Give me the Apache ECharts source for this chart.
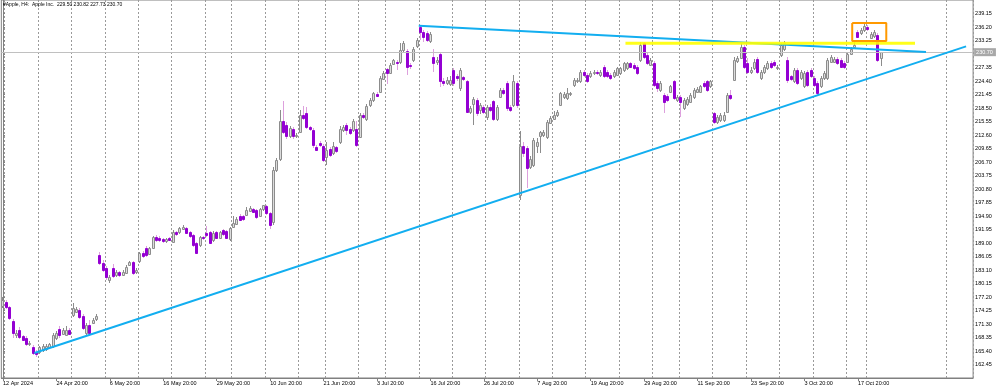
<!DOCTYPE html>
<html><head><meta charset="utf-8">
<script src="https://cdn.jsdelivr.net/npm/echarts@6/dist/echarts.min.js"></script>
<style>html,body{margin:0;padding:0;background:#fff}#c{width:1000px;height:388px}</style>
</head><body><div id="c"></div>
<script>
// [open, close, low, high] per H4 bar
const aprBars = [
[175.3,176.6,174.9,177.2],[176.2,175.0,174.6,176.6],[175.0,172.6,172.2,175.3],[172.0,169.3,168.2,172.5],
[168.8,169.4,168.2,170.0],[170.0,168.5,168.0,170.6],[168.6,167.9,167.6,168.9],[168.2,167.0,166.5,168.6],
[166.9,167.1,166.5,167.5],[166.3,165.0,164.6,166.8],[165.2,164.7,164.1,165.6],[165.2,166.2,164.8,166.6],
[165.6,166.6,165.2,167.0],[165.9,166.5,165.5,167.0],[166.2,166.9,165.9,167.2],[166.4,168.9,166.1,169.3],
[168.2,169.3,167.8,169.8],[170.3,168.9,168.3,170.9],[169.2,170.0,168.9,170.4],[169.0,170.0,168.6,170.8],
[170.0,169.2,168.8,170.4],[173.3,174.8,172.9,175.9],[174.0,174.5,173.6,175.0],[174.4,172.8,172.4,174.9],
[173.0,170.4,170.0,173.4]
];
const mayBars = [
[169.3,171.0,168.8,171.5],[171.1,169.3,168.9,172.2],[171.6,172.2,171.2,172.7],[172.3,173.1,171.9,173.5],
[186.3,184.6,184.2,187.0],[184.7,183.0,182.7,185.2],[183.6,181.6,181.0,184.0],[181.0,181.6,180.3,182.0],
[183.5,181.7,181.4,184.5],[182.0,182.7,181.6,183.0],[182.6,182.0,181.5,182.9],[182.0,182.7,181.7,183.0],
[182.5,183.8,182.2,184.2],[184.3,184.9,184.0,185.1],[184.9,182.5,182.1,185.1],[182.6,183.1,182.2,183.5],
[185.0,186.8,184.7,187.1],[186.9,186.2,185.8,187.2],[187.9,186.4,186.0,188.3],[186.6,187.9,186.3,188.2],
[187.9,190.3,187.6,190.6],[190.4,189.7,189.3,190.8],[190.2,189.6,189.2,190.6],[189.9,189.5,189.1,190.2],
[189.4,189.9,189.0,190.2],[190.1,189.7,189.4,190.4],[189.2,191.4,189.0,191.9],[191.4,190.9,190.6,191.7],
[191.3,192.2,190.9,192.6],[192.1,192.5,191.8,192.9],[192.2,191.2,190.9,192.5],[191.3,190.5,190.2,191.6],
[190.7,188.5,188.1,191.0],[189.0,186.8,186.5,189.3],[188.5,190.3,188.2,190.6],[190.3,190.0,189.7,190.6],
[191.2,190.7,190.4,192.8],[191.3,189.1,188.8,191.6],[189.6,191.2,189.3,191.6],[191.3,190.2,189.9,191.6],
[190.0,191.3,189.8,191.6],[191.8,190.9,190.6,192.1],[191.6,190.1,189.8,191.9],[189.8,192.3,189.5,192.6]
];
const junBars = [
[192.6,193.4,192.3,194.8],[193.1,194.3,192.9,194.6],[194.9,194.0,193.7,195.3],[194.8,194.2,193.9,195.1],
[195.1,196.3,194.9,196.9],[196.0,196.6,195.7,197.0],[196.4,195.8,195.5,196.7],[196.2,194.6,194.2,196.5],
[194.9,196.4,194.6,196.7],[196.4,197.2,196.1,197.4],[197.1,195.6,195.2,197.3],[195.5,193.0,192.1,195.8],
[193.5,205.0,193.0,205.5],[205.0,207.1,204.5,207.6],[207.4,215.6,207.0,218.0],[215.6,213.3,212.8,220.0],
[214.8,212.4,211.7,215.5],[212.4,214.1,212.0,214.5],[214.0,212.3,211.8,214.4],[212.3,212.6,211.9,213.0],
[213.3,217.0,213.0,218.0],[217.0,216.3,215.8,219.0],[217.4,214.4,214.0,218.7],[214.3,214.0,213.4,214.6],
[213.7,210.4,209.8,214.2],[210.0,209.4,209.0,210.4],[210.9,210.4,210.0,211.2],[210.1,207.1,206.6,210.6],
[207.7,209.3,206.0,211.1],[209.6,208.2,207.8,210.0],[208.6,210.3,208.2,211.1],[209.9,209.0,208.6,210.3],
[211.0,214.0,210.6,214.6],[213.6,214.3,213.2,214.8],[214.8,213.6,212.6,215.3],[214.0,213.1,212.7,214.4],
[213.7,215.6,213.3,216.0],[213.9,210.5,210.0,215.6]
];
const julBars = [
[212.2,216.9,211.9,217.4],[216.9,216.6,216.2,217.3],[216.2,219.0,215.6,219.4],[219.2,220.2,218.8,220.6],
[220.3,221.7,219.9,222.0],[221.6,221.1,220.8,221.9],[222.0,225.1,221.7,225.4],[224.9,226.2,224.6,226.5],
[227.0,226.1,223.8,227.3],[226.2,227.9,225.9,228.4],[228.2,228.9,227.8,229.3],[228.6,228.3,226.8,228.9],
[228.6,231.2,228.2,232.6],[231.2,232.8,230.8,233.1],[231.0,227.5,225.7,231.5],[228.0,227.6,227.0,228.4],
[229.0,231.5,228.6,231.9],[232.0,233.4,231.6,233.8],[236.3,235.1,233.4,236.5],[235.2,234.1,233.0,235.6],
[234.8,233.4,232.9,235.3],[233.2,234.6,232.8,235.0],[229.6,228.4,226.4,231.3],[228.5,229.0,228.0,229.6],
[230.3,224.4,223.0,230.6],[224.4,224.0,223.3,225.0],[224.0,224.7,223.6,225.2],[223.7,224.7,223.2,225.5],
[226.8,224.0,223.4,227.3],[225.4,225.0,224.5,225.9],[222.8,226.8,222.2,227.2],[225.2,224.9,224.5,225.6],
[224.3,217.7,217.3,224.6],[217.7,218.6,217.2,219.0],[219.4,220.4,214.8,220.8],[220.2,217.3,216.8,220.6],
[218.1,219.2,217.2,219.6],[218.8,217.7,217.2,219.2],[216.6,218.8,215.9,219.2],[218.8,218.1,217.6,219.3],
[220.1,216.0,215.6,220.3],[216.0,218.8,215.6,219.2],[221.0,222.4,220.6,222.8],[222.4,221.7,221.3,222.8]
];
const augBars = [
[223.9,218.4,217.9,224.3],[218.8,218.1,217.6,219.2],[219.2,224.3,218.8,225.7],[223.9,219.2,218.6,224.3],
[199.5,210.2,198.4,213.5],[210.2,208.7,207.8,211.0],[209.7,205.3,201.0,210.1],[205.6,207.3,205.2,208.0],
[206.0,211.5,205.6,212.0],[210.2,211.0,208.7,211.9],[212.3,213.2,208.6,213.5],[212.6,213.3,212.2,213.8],
[212.1,215.4,211.7,215.9],[215.3,216.3,214.9,216.7],[216.2,217.0,215.8,217.8],[217.0,217.6,216.6,218.0],
[219.2,221.7,218.9,222.1],[220.9,221.5,220.5,221.9],[220.6,221.7,220.2,222.8],[221.5,221.8,221.2,222.1],
[223.5,224.6,223.1,225.0],[224.3,224.6,224.0,225.0],[224.3,226.4,223.9,226.8],[226.4,225.7,225.3,226.8],
[225.7,224.3,223.9,226.1],[225.4,226.1,225.0,226.5],[226.1,226.4,225.7,226.8],[226.4,226.1,225.7,226.8],
[225.7,226.4,225.3,226.8],[227.5,225.4,225.0,227.9],[226.4,225.4,225.0,226.8],[225.7,225.0,224.6,226.1],
[225.4,226.4,225.0,226.8],[225.7,227.2,225.4,227.5],[226.1,227.2,225.7,227.5],[226.8,228.3,226.4,228.6],
[227.2,228.3,226.8,228.6],[228.3,227.5,227.2,228.6],[227.9,227.2,226.8,228.3],[227.5,226.1,225.7,227.9],
[229.0,232.3,228.6,233.0],[232.6,229.7,229.3,233.0],[230.1,228.3,227.9,230.5],[228.0,229.0,227.6,229.4]
];
const sepBars = [
[228.3,223.5,223.1,228.7],[223.9,222.9,222.0,224.3],[222.4,223.9,222.0,224.3],[221.3,219.9,217.3,221.7],
[221.1,220.3,219.9,221.5],[222.1,223.2,221.7,223.6],[224.3,220.6,220.2,224.7],[220.3,220.9,219.9,221.3],
[221.0,219.9,216.6,221.4],[218.4,220.3,218.0,220.7],[219.4,220.4,219.0,220.8],[219.9,221.3,219.5,221.7],
[220.8,222.4,220.4,222.8],[222.1,222.6,221.7,223.0],[222.1,223.2,221.7,223.6],[223.9,223.2,222.8,224.3],
[224.3,222.4,222.0,224.7],[223.2,224.3,222.8,224.7],[217.3,215.5,215.1,217.7],[215.5,216.6,215.1,217.0],
[215.9,217.0,215.5,217.4],[215.9,217.0,215.5,217.7],[217.7,221.3,217.3,221.7],[221.3,220.6,220.2,222.4],
[224.6,229.0,224.3,229.7],[228.7,229.4,228.3,229.8],[229.5,231.9,229.1,232.6],[231.9,227.5,227.1,232.3],
[228.3,226.4,226.0,229.4],[226.4,226.8,225.9,227.4],[227.2,228.6,226.8,229.1],[229.3,226.4,226.0,229.7],
[225.0,226.4,224.6,226.8],[226.4,227.5,226.0,227.9],[227.2,228.3,226.8,228.7],[228.3,227.5,227.1,228.7],
[228.6,227.9,227.5,229.0],[227.2,227.5,226.8,227.9],[230.1,232.3,229.7,232.7],[231.5,232.8,231.0,233.1]
];
const octBars = [
[229.0,224.6,223.9,229.7],[225.4,224.8,224.3,225.8],[224.3,226.8,223.9,227.2],[226.8,223.9,223.5,227.2],
[225.0,226.4,224.6,226.8],[223.2,226.1,222.8,226.5],[226.4,223.5,223.1,226.8],[226.8,225.4,225.0,227.2],
[225.0,223.5,223.1,225.4],[223.9,221.7,221.3,224.3],[223.2,225.0,222.8,225.4],[225.0,226.1,224.6,226.5],
[225.0,229.0,224.6,229.4],[228.6,229.7,228.3,230.1],[228.6,229.3,228.3,229.7],[229.3,228.3,227.9,229.7],
[229.0,227.5,227.2,229.4],[228.3,227.5,227.1,228.7],[228.6,230.4,228.3,230.8],[230.4,231.5,230.1,231.9],
[231.9,232.3,231.5,233.4],[235.2,234.1,233.7,235.6],[234.8,235.5,234.4,235.9],[235.5,236.5,235.1,237.0],
[236.3,235.7,235.3,236.6],[233.9,234.6,233.5,235.0],[234.3,235.2,233.9,235.6],[234.4,229.0,228.6,234.8],
[229.50,230.70,227.73,230.82]
];

const tickLabels = ['12 Apr 2024','24 Apr 20:00','6 May 20:00','16 May 20:00','29 May 20:00','10 Jun 20:00',
  '21 Jun 20:00','3 Jul 20:00','16 Jul 20:00','26 Jul 20:00','7 Aug 20:00','19 Aug 20:00','29 Aug 20:00',
  '11 Sep 20:00','23 Sep 20:00','3 Oct 20:00','17 Oct 20:00'];
const labelEvery = 16;
const weekStarts = [1,11,21,31,41,51,61,69,79,89,97,107,115,125,135,145,155,165,175,185,195,203,213,223,233,243,253,259,283];
const totalSlots = 291;

// drawn objects: [bar index, price]
const lowerTrend = [[9.4,164.96],[288.4,231.97]];
const upperTrend = [[124.5,236.45],[276.4,230.74]];
const resistance = [[186.4,232.64],[273.1,232.64]];
const boxCorners = [[254.3,237.08],[264.5,237.08],[264.5,233.15],[254.3,233.15],[254.3,237.08]];
const lastPrice = 230.70;
const headerText = '#Apple, H4:  Apple Inc.  229.50 230.82 227.73 230.70';

const FONT = 'Liberation Sans, Arial, sans-serif';
const bars = [].concat(aprBars, mayBars, junBars, julBars, augBars, sepBars, octBars);
const candleData = bars.map((b, i) => [i, b[0], b[1], b[2], b[3]]);
const slots = Array.from({length: totalSlots}, (_, i) => 's' + i);
const isLabel = (i) => i % labelEvery === 0 && i / labelEvery < tickLabels.length;

const chart = echarts.init(document.getElementById('c'), null, {renderer: 'canvas'});
chart.setOption({
  animation: false,
  backgroundColor: '#ffffff',
  title: {text: headerText, left: 3, top: 2, padding: 0,
    textStyle: {fontSize: 5, fontWeight: 'normal', color: '#000', fontFamily: FONT}},
  grid: {left: 0, top: 0, width: totalSlots * 3.344, height: 378, show: true, borderColor: '#808080', borderWidth: 1},
  xAxis: [{
    type: 'category', data: slots, boundaryGap: true,
    axisLine: {show: true, lineStyle: {color: '#808080'}},
    axisTick: {show: true, alignWithLabel: true, length: 3, interval: isLabel, lineStyle: {color: '#808080'}},
    axisLabel: {interval: isLabel, formatter: (v, i) => tickLabels[i / labelEvery], align: 'left',
      fontSize: 5.5, margin: 2, color: '#000', fontFamily: FONT},
    splitLine: {show: true, interval: (i) => weekStarts.indexOf(i) >= 0,
      lineStyle: {color: '#9a9a9a', type: [2, 2], width: 1}}
  }, {
    type: 'value', min: -0.5, max: totalSlots - 0.5, show: false
  }],
  yAxis: {
    type: 'value', position: 'right', min: 159.5, max: 242.1, interval: 2.95, scale: true,
    axisLine: {show: true, lineStyle: {color: '#808080'}},
    axisTick: {show: true, length: 2, lineStyle: {color: '#808080'}},
    axisLabel: {formatter: (v) => v.toFixed(2), fontSize: 5.5, margin: 2, color: '#000', fontFamily: FONT,
      showMinLabel: false, showMaxLabel: false},
    splitLine: {show: false}
  },
  series: [
    {
      type: 'line', xAxisIndex: 1, data: [[0, lastPrice]], symbol: 'none', lineStyle: {opacity: 0}, z: 1, silent: true,
      markLine: {silent: true, symbol: ['none', 'none'], animation: false,
        data: [{yAxis: lastPrice}],
        lineStyle: {color: '#c0c0c0', type: 'solid', width: 1},
        label: {show: true, position: 'end', formatter: lastPrice.toFixed(2), backgroundColor: '#a8a8a8',
          color: '#ffffff', fontSize: 5.5, fontFamily: FONT, padding: [1, 3, 1, 2], distance: 1}}
    },
    {
      type: 'custom', xAxisIndex: 1, data: candleData, z: 3, clip: true,
      encode: {x: 0, y: [1, 2, 3, 4]},
      renderItem: function (params, api) {
        const i = api.value(0), o = api.value(1), c = api.value(2), l = api.value(3), h = api.value(4);
        const po = api.coord([i, o]), pc = api.coord([i, c]), pl = api.coord([i, l]), ph = api.coord([i, h]);
        const xc = Math.floor(po[0]) + 0.5;
        const up = c >= o;
        const yTop = Math.round(Math.min(po[1], pc[1])) + 0.5;
        const yBot = Math.max(Math.round(Math.max(po[1], pc[1])) + 0.5, yTop + 1);
        return {type: 'group', children: [
          {type: 'line', shape: {x1: xc, y1: Math.round(ph[1]), x2: xc, y2: Math.round(pl[1])},
            style: {stroke: up ? '#8c8c8c' : '#dda0dd', lineWidth: 1}},
          {type: 'rect', shape: {x: xc - 1, y: yTop, width: 2, height: yBot - yTop},
            style: {fill: up ? '#dcdcdc' : '#9400d3', stroke: up ? '#8c8c8c' : '#9400d3', lineWidth: 1}}
        ]};
      }
    },
    {type: 'line', xAxisIndex: 1, data: lowerTrend, symbol: 'none', z: 5, silent: true,
      lineStyle: {color: '#12aef0', width: 2}},
    {type: 'line', xAxisIndex: 1, data: upperTrend, symbol: 'none', z: 5, silent: true,
      lineStyle: {color: '#12aef0', width: 2}},
    {type: 'line', xAxisIndex: 1, data: resistance, symbol: 'none', z: 6, silent: true,
      lineStyle: {color: '#ffff00', width: 3, opacity: 0.9}},
    {type: 'line', xAxisIndex: 1, data: boxCorners, symbol: 'none', z: 6, silent: true,
      lineStyle: {color: '#ff9900', width: 2}}
  ]
});
</script></body></html>
